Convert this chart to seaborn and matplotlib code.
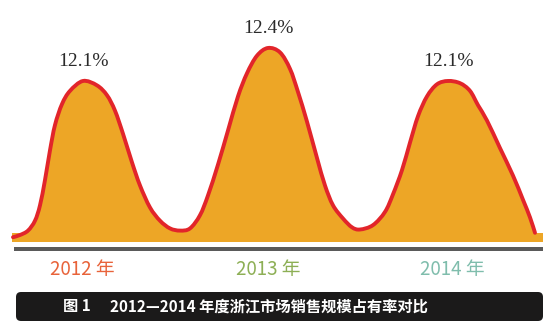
import matplotlib
matplotlib.use("Agg")
import matplotlib.pyplot as plt
from matplotlib.patches import Rectangle, FancyBboxPatch, PathPatch
from matplotlib.path import Path
import seaborn as sns

# Market share of each year (%)
years = ["2012 年", "2013 年", "2014 年"]
shares = [12.1, 12.4, 12.1]
share_labels = ["12.1%", "12.4%", "12.1%"]
year_colors = ["#E8633A", "#8DAF55", "#7FBDAC"]

# Knots of the decorative wave: horizontal position and share value (%)
curve_x = [13, 20, 28, 35, 40, 45, 50, 55, 62, 70,
           83, 97, 107, 115, 123, 132, 140, 150, 160, 170,
           180, 190, 200, 208, 218, 228, 238, 247, 257, 268,
           280, 290, 298, 307, 317, 325, 333, 343, 352, 360,
           373, 385, 393, 402, 410, 418, 427, 437, 448, 460,
           470, 478, 487, 500, 513, 523, 530, 535]
curve_y = [10.68, 10.70, 10.74, 10.83, 10.97, 11.20, 11.47, 11.70, 11.89, 12.01,
           shares[0], 12.06, 11.97, 11.83, 11.62, 11.36, 11.15, 10.95, 10.83, 10.76,
           10.74, 10.76, 10.88, 11.06, 11.34, 11.65, 11.96, 12.17, 12.33, shares[1],
           12.36, 12.21, 12.00, 11.73, 11.40, 11.15, 10.97, 10.85, 10.77, 10.75,
           10.79, 10.91, 11.07, 11.29, 11.54, 11.78, 11.96, 12.07, shares[2], 12.08,
           12.01, 11.88, 11.74, 11.49, 11.24, 11.02, 10.86, 10.72]
peak_x = [83, 268, 448]
baseline = 10.71

fig_label = "图 1"
title = "2012—2014 年度浙江市场销售规模占有率对比"

sns.set_theme(style="white")
plt.rcParams["font.family"] = ["Noto Sans CJK SC", "DejaVu Sans"]

W, H = 550, 336
fig = plt.figure(figsize=(W / 100, H / 100), dpi=100)
fig.patch.set_facecolor("white")
ax = fig.add_axes([0, 0, 1, 1])
ax.set_xlim(0, W)
ax.set_ylim(9.782, 12.836)
ax.axis("off")
sns.despine(ax=ax, left=True, bottom=True)

orange = "#EDA626"
red = "#E2252A"


def smooth_path(xs, ys):
    """Cubic Bezier path passing through every knot (Catmull-Rom tangents)."""
    pts = list(zip(xs, ys))
    n = len(pts)
    verts = [pts[0]]
    codes = [Path.MOVETO]
    for i in range(n - 1):
        p0 = pts[max(i - 1, 0)]
        p1 = pts[i]
        p2 = pts[i + 1]
        p3 = pts[min(i + 2, n - 1)]
        c1 = (p1[0] + (p2[0] - p0[0]) / 6, p1[1] + (p2[1] - p0[1]) / 6)
        c2 = (p2[0] - (p3[0] - p1[0]) / 6, p2[1] - (p3[1] - p1[1]) / 6)
        verts += [c1, c2, p2]
        codes += [Path.CURVE4] * 3
    return verts, codes


verts, codes = smooth_path(curve_x, curve_y)

# filled wave, closed down to the baseline
fill_verts = verts + [(curve_x[-1], baseline - 0.02), (curve_x[0], baseline - 0.02),
                      verts[0]]
fill_codes = codes + [Path.LINETO, Path.LINETO, Path.CLOSEPOLY]
ax.add_patch(PathPatch(Path(fill_verts, fill_codes), facecolor=orange,
                       edgecolor="none", zorder=1))
# red outline
ax.add_patch(PathPatch(Path(verts, codes), facecolor="none", edgecolor=red,
                       linewidth=2.8, capstyle="round", joinstyle="round",
                       zorder=3))

# orange base strip
ax.add_patch(Rectangle((12, baseline - 0.073), 531, 0.073 + 0.005,
                       facecolor=orange, edgecolor="none", zorder=2))


def fy(y):
    return 1 - y / H


def fx(x):
    return x / W


# grey rule beneath the strip
fig.add_artist(Rectangle((fx(14), fy(251)), fx(543) - fx(14), fy(247) - fy(251),
                         transform=fig.transFigure, facecolor="#5A5A5A",
                         edgecolor="none"))

# value labels above each peak
for px, val, lab in zip(peak_x, shares, share_labels):
    ax.annotate(lab, (px, val), xytext=(0, 14), textcoords="offset points",
                ha="center", va="center", fontsize=14,
                family="Liberation Serif", color="#2A2A2A")

# year labels
for px, yr, col in zip([82, 268, 452], years, year_colors):
    fig.text(fx(px), fy(270), yr, ha="center", va="center", fontsize=13.5,
             color=col)

# caption bar
fig.add_artist(FancyBboxPatch((16 / 100, (H - 321) / 100), 527 / 100, 29 / 100,
                              boxstyle="round,pad=0,rounding_size=0.05",
                              transform=fig.dpi_scale_trans,
                              facecolor="#1B1A1A", edgecolor="none"))
fig.text(fx(63), fy(306.5), fig_label, ha="left", va="center", fontsize=11,
         fontweight="bold", color="white")
fig.text(fx(110), fy(306.5), title, ha="left", va="center", fontsize=11,
         fontweight="bold", color="white")

fig.savefig("out.png", dpi=100)
